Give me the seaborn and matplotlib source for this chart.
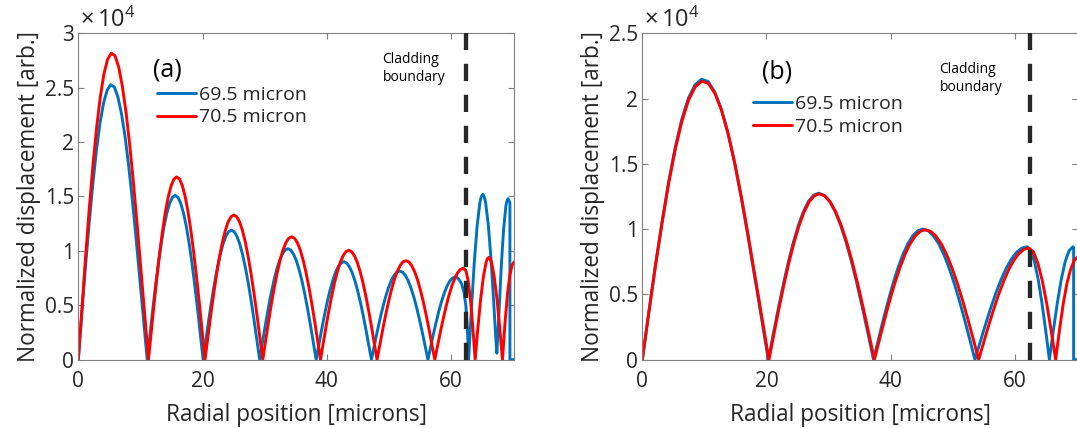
import numpy as np
import pandas as pd
import matplotlib
matplotlib.use("Agg")
import matplotlib.pyplot as plt
import seaborn as sns
from matplotlib.ticker import FuncFormatter, MultipleLocator

# ---------------- data (displacement in units of 1e4) ----------------
series_names = ["69.5 micron", "70.5 micron"]
cladding_boundary = 62.5

a_blue_x = [0, .58, 1.15, 1.74, 2.32, 2.90, 3.47, 4.05, 4.64, 5.22, 5.79, 6.37, 6.95, 7.54, 8.11, 8.69, 9.27, 9.85, 10.43, 11.1,
            11.55, 12.0, 12.45, 12.9, 13.35, 13.8, 14.25, 14.7, 15.15, 15.6, 16.05, 16.5, 16.95, 17.4, 17.85, 18.3, 18.75, 19.2, 19.65, 20.1,
            20.555, 21.01, 21.465, 21.92, 22.375, 22.83, 23.285, 23.74, 24.195, 24.65, 25.105, 25.56, 26.015, 26.47, 26.925, 27.38, 27.835, 28.29, 28.745, 29.2,
            29.655, 30.11, 30.565, 31.02, 31.475, 31.93, 32.385, 32.84, 33.295, 33.75, 34.205, 34.66, 35.115, 35.57, 36.025, 36.48, 36.935, 37.39, 37.845, 38.3,
            38.745, 39.19, 39.635, 40.08, 40.525, 40.97, 41.415, 41.86, 42.305, 42.75, 43.195, 43.64, 44.085, 44.53, 44.975, 45.42, 45.865, 46.31, 46.755, 47.2,
            47.655, 48.11, 48.565, 49.02, 49.475, 49.93, 50.385, 50.84, 51.295, 51.75, 52.205, 52.66, 53.115, 53.57, 54.025, 54.48, 54.935, 55.39, 55.845, 56.3,
            56.74, 57.18, 57.62, 58.06, 58.5, 58.94, 59.38, 59.82, 60.26, 60.7, 61.2, 61.7, 62.1, 62.4, 62.65, 62.85,
            63.31, 63.76, 64.22, 64.67, 64.9, 65.13, 65.36, 65.58, 66.04, 66.49, 66.95, 67.2, 67.4,
            67.58, 67.76, 68.12, 68.48, 68.84, 69.02, 69.2, 69.45, 69.5, 69.5, 70.2]
a_blue_y = [0, .433, .853, 1.247, 1.604, 1.913, 2.166, 2.355, 2.477, 2.527, 2.507, 2.416, 2.262, 2.047, 1.781, 1.475, 1.136, .779, .415, 0,
            .236, .467, .686, .888, 1.068, 1.222, 1.345, 1.436, 1.492, 1.51, 1.492, 1.436, 1.345, 1.222, 1.068, .888, .686, .467, .236, 0,
            .186, .368, .540, .700, .841, .963, 1.060, 1.132, 1.176, 1.19, 1.176, 1.132, 1.060, .963, .841, .700, .540, .368, .186, 0,
            .159, .315, .463, .600, .721, .825, .909, .970, 1.008, 1.02, 1.008, .970, .909, .825, .721, .600, .463, .315, .159, 0,
            .140, .278, .409, .529, .636, .728, .802, .856, .889, .90, .889, .856, .802, .728, .636, .529, .409, .278, .140, 0,
            .127, .252, .370, .479, .576, .659, .726, .775, .805, .815, .805, .775, .726, .659, .576, .479, .370, .252, .127, 0,
            .119, .235, .345, .447, .537, .615, .677, .723, .751, .76, .745, .70, .62, .50, .28, 0,
            .47, .894, 1.23, 1.446, 1.50, 1.52, 1.50, 1.446, 1.23, .894, .47, .22, .06,
            .25, .457, .870, 1.197, 1.408, 1.46, 1.48, 1.45, 1.44, 0, 0]

a_red_x = [0, .59, 1.18, 1.77, 2.36, 2.95, 3.54, 4.12, 4.72, 5.31, 5.90, 6.49, 7.07, 7.67, 8.26, 8.85, 9.44, 10.02, 10.62, 11.3,
           11.755, 12.21, 12.665, 13.12, 13.575, 14.03, 14.485, 14.94, 15.395, 15.85, 16.305, 16.76, 17.215, 17.67, 18.125, 18.58, 19.035, 19.49, 19.945, 20.4,
           20.865, 21.33, 21.795, 22.26, 22.725, 23.19, 23.655, 24.12, 24.585, 25.05, 25.515, 25.98, 26.445, 26.91, 27.375, 27.84, 28.305, 28.77, 29.235, 29.7,
           30.165, 30.63, 31.095, 31.56, 32.025, 32.49, 32.955, 33.42, 33.885, 34.35, 34.815, 35.28, 35.745, 36.21, 36.675, 37.14, 37.605, 38.07, 38.535, 39.0,
           39.455, 39.91, 40.365, 40.82, 41.275, 41.73, 42.185, 42.64, 43.095, 43.55, 44.005, 44.46, 44.915, 45.37, 45.825, 46.28, 46.735, 47.19, 47.645, 48.1,
           48.565, 49.03, 49.495, 49.96, 50.425, 50.89, 51.355, 51.82, 52.285, 52.75, 53.215, 53.68, 54.145, 54.61, 55.075, 55.54, 56.005, 56.47, 56.935, 57.4,
           57.86, 58.32, 58.78, 59.24, 59.7, 60.16, 60.62, 61.08, 61.54, 62.0, 62.4, 62.8, 63.2, 63.55, 63.9,
           64.34, 64.78, 65.22, 65.66, 65.88, 66.1, 66.32, 66.54, 66.98, 67.42, 67.86, 68.3,
           68.7, 69.1, 69.5, 69.85, 70.2]
a_red_y = [0, .482, .950, 1.390, 1.788, 2.132, 2.414, 2.625, 2.761, 2.817, 2.795, 2.693, 2.521, 2.281, 1.985, 1.644, 1.266, .869, .462, 0,
           .262, .519, .763, .988, 1.188, 1.359, 1.497, 1.598, 1.660, 1.68, 1.660, 1.598, 1.497, 1.359, 1.188, .988, .763, .519, .262, 0,
           .207, .411, .604, .782, .940, 1.076, 1.185, 1.265, 1.314, 1.33, 1.314, 1.265, 1.185, 1.076, .940, .782, .604, .411, .207, 0,
           .176, .349, .513, .664, .799, .914, 1.007, 1.075, 1.116, 1.13, 1.116, 1.075, 1.007, .914, .799, .664, .513, .349, .176, 0,
           .157, .311, .456, .591, .711, .813, .895, .956, .993, 1.005, .993, .956, .895, .813, .711, .591, .456, .311, .157, 0,
           .142, .281, .413, .535, .643, .736, .811, .865, .899, .91, .899, .865, .811, .736, .643, .535, .413, .281, .142, 0,
           .131, .260, .381, .494, .594, .680, .748, .799, .830, .84, .82, .72, .52, .28, 0,
           .29, .553, .76, .894, .928, .94, .928, .894, .76, .553, .29, 0,
           .33, .6, .78, .87, .9]

b_blue_x = [0, 1.06, 2.11, 3.19, 4.24, 5.30, 6.35, 7.41, 8.49, 9.54, 10.60, 11.65, 12.71, 13.78, 14.84, 15.89, 16.95, 18.01, 19.08, 20.3,
            21.11, 21.92, 22.73, 23.54, 24.35, 25.16, 25.97, 26.78, 27.59, 28.4, 29.29, 30.17, 31.06, 31.94, 32.83, 33.71, 34.60, 35.48, 36.37, 37.25,
            38.05, 38.84, 39.64, 40.43, 41.23, 42.02, 42.82, 43.61, 44.41, 45.2, 46.04, 46.88, 47.72, 48.56, 49.4, 50.24, 51.08, 51.92, 52.76, 53.6,
            54.44, 55.28, 56.12, 56.96, 57.8, 58.64, 59.48, 60.32, 61.16, 62.0, 62.6, 63.2, 63.8, 64.4, 65.0, 65.6,
            66.23, 66.87, 67.5, 68.13, 68.77, 69.4, 69.5, 69.5, 70.2]
b_blue_y = [0, .368, .725, 1.060, 1.363, 1.625, 1.840, 2.002, 2.105, 2.148, 2.131, 2.053, 1.922, 1.739, 1.514, 1.253, .965, .662, .353, 0,
            .199, .394, .579, .750, .901, 1.031, 1.136, 1.213, 1.260, 1.275, 1.260, 1.213, 1.136, 1.031, .901, .750, .579, .394, .199, 0,
            .156, .309, .454, .588, .707, .809, .891, .951, .988, 1.0, .988, .951, .891, .809, .707, .588, .454, .309, .156, 0,
            .135, .267, .393, .509, .612, .700, .771, .823, .855, .865, .836, .749, .612, .433, .224, 0,
            .224, .433, .612, .749, .836, .865, .86, 0, 0]

b_red_x = [0, 1.06, 2.12, 3.20, 4.26, 5.32, 6.39, 7.45, 8.53, 9.59, 10.65, 11.71, 12.77, 13.85, 14.91, 15.97, 17.03, 18.09, 19.18, 20.4,
           21.21, 22.02, 22.83, 23.64, 24.45, 25.26, 26.07, 26.88, 27.69, 28.5, 29.39, 30.28, 31.17, 32.06, 32.95, 33.84, 34.73, 35.62, 36.51, 37.4,
           38.22, 39.04, 39.86, 40.68, 41.5, 42.32, 43.14, 43.96, 44.78, 45.6, 46.46, 47.32, 48.18, 49.04, 49.9, 50.76, 51.62, 52.48, 53.34, 54.2,
           55.01, 55.82, 56.63, 57.44, 58.25, 59.06, 59.87, 60.68, 61.49, 62.3, 63.02, 63.73, 64.45, 65.17, 65.88, 66.6,
           67.2, 67.8, 68.4, 69.0, 69.6, 70.2]
b_red_y = [0, .365, .719, 1.053, 1.354, 1.614, 1.828, 1.988, 2.090, 2.133, 2.116, 2.039, 1.909, 1.727, 1.503, 1.245, .959, .658, .350, 0,
           .198, .392, .577, .747, .898, 1.027, 1.132, 1.208, 1.255, 1.27, 1.255, 1.208, 1.132, 1.027, .898, .747, .577, .392, .198, 0,
           .155, .307, .452, .585, .703, .805, .887, .946, .983, .995, .983, .946, .887, .805, .703, .585, .452, .307, .155, 0,
           .133, .264, .388, .503, .604, .692, .762, .813, .845, .855, .826, .740, .605, .428, .221, 0,
           .22, .42, .58, .69, .76, .79]

x_ticks = [0, 20, 40, 60]
# ---------------------------------------------------------------------

sns.set_theme(style="ticks")
plt.rcParams["font.family"] = ["Open Sans", "DejaVu Sans"]
plt.rcParams["mathtext.default"] = "regular"

BLUE = "#0072BD"
RED = "#FF0000"
TXT = "#262626"
AXC = "#808080"

fig = plt.figure(figsize=(10.77, 4.28), dpi=100)
ax_a = fig.add_axes([0.0727, 0.1596, 0.4048, 0.7626])
ax_b = fig.add_axes([0.5964, 0.1596, 0.4045, 0.7626])


def draw(ax, bx, by, rx, ry, ymax, label, label_xy, clad_xy, leg_anchor):
    d_blue = pd.DataFrame({"r": bx, "u": np.asarray(by) * 1e4})
    d_red = pd.DataFrame({"r": rx, "u": np.asarray(ry) * 1e4})
    sns.lineplot(data=d_blue, x="r", y="u", ax=ax, color=BLUE, lw=2.1,
                 estimator=None, sort=False, label=series_names[0])
    sns.lineplot(data=d_red, x="r", y="u", ax=ax, color=RED, lw=2.1,
                 estimator=None, sort=False, label=series_names[1])
    ax.axvline(cladding_boundary, color=TXT, lw=3.1, dashes=(4, 3.2), zorder=5)
    ax.set_xlim(0, 70.2)
    ax.set_ylim(0, ymax)
    ax.set_xticks(x_ticks)
    ax.yaxis.set_major_locator(MultipleLocator(5000))
    ax.yaxis.set_major_formatter(FuncFormatter(lambda v, _: f"{v / 1e4:g}"))
    ax.tick_params(direction="in", length=4, width=0.8, colors=AXC,
                   labelcolor=TXT, labelsize=15, top=True, right=True)
    ax.tick_params(axis="x", pad=8)
    ax.tick_params(axis="y", pad=3)
    for s in ax.spines.values():
        s.set_color(AXC)
        s.set_linewidth(0.8)
    ax.set_xlabel("Radial position [microns]", fontsize=16.3, color=TXT, labelpad=8)
    ax.set_ylabel("Normalized displacement [arb.]", fontsize=16.3, color=TXT, labelpad=3)
    ax.text(0.004, 1.0, r"$\times\,10^{4}$", transform=ax.transAxes, ha="left", va="bottom",
            fontsize=17, color=TXT)
    ax.text(label_xy[0], label_xy[1], label, ha="center", va="center", fontsize=18, color="black")
    ax.text(clad_xy[0], clad_xy[1], "Cladding\nboundary", ha="left", va="top", fontsize=10,
            color="black", linespacing=1.3)
    ax.legend(loc="upper left", bbox_to_anchor=leg_anchor, frameon=False, fontsize=14,
              handlelength=2.0, handletextpad=0.15, labelspacing=0.25, borderpad=0,
              borderaxespad=0)


draw(ax_a, a_blue_x, a_blue_y, a_red_x, a_red_y, 30000, "(a)", (14.4, 26600),
     (49.0, 28300), (0.18, 0.84))
draw(ax_b, b_blue_x, b_blue_y, b_red_x, b_red_y, 25000, "(b)", (21.7, 22000),
     (47.9, 22800), (0.2546, 0.812))

fig.savefig("out.png", dpi=100)
